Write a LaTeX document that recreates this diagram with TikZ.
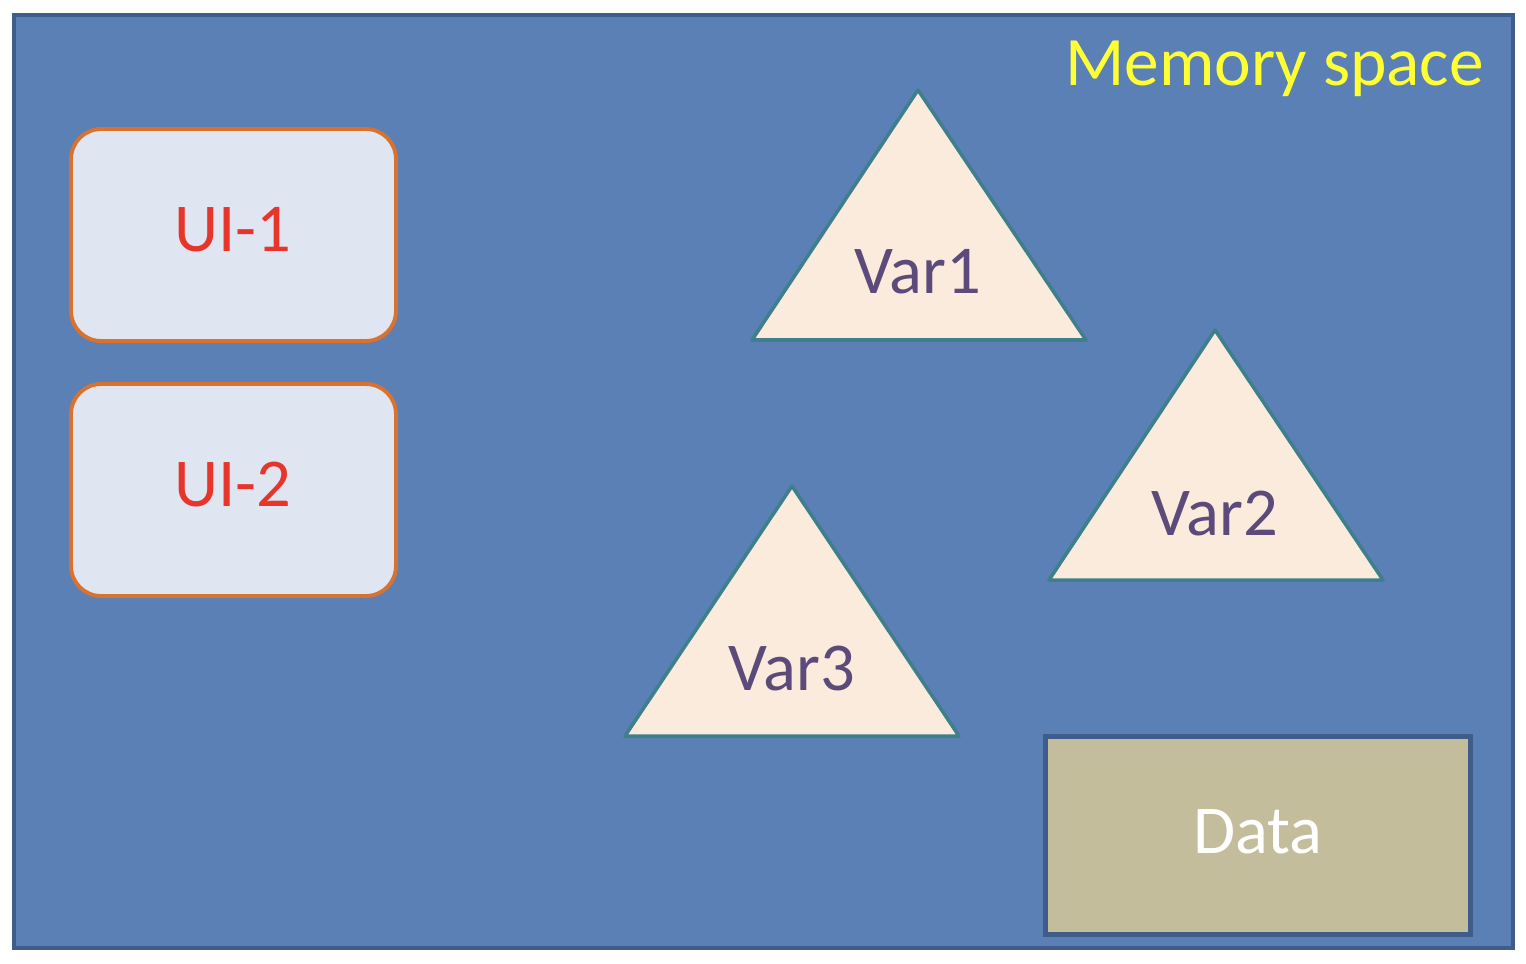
\documentclass[tikz,border=0pt]{standalone}
\usepackage{fontspec}
\setmainfont{Carlito}
\definecolor{memfill}{HTML}{5A80B6}
\definecolor{memline}{HTML}{3F5C8A}
\definecolor{uifill}{HTML}{DFE6F1}
\definecolor{uiline}{HTML}{D9722F}
\definecolor{uitext}{HTML}{E8352B}
\definecolor{varfill}{HTML}{FBEBDD}
\definecolor{varline}{HTML}{3F7F8B}
\definecolor{vartext}{HTML}{5C4A7A}
\definecolor{datafill}{HTML}{C4BD9C}
\definecolor{memtext}{HTML}{FFFF33}
\begin{document}
\begin{tikzpicture}[x=0.02cm,y=-0.02cm,
  uibox/.style={draw=uiline,fill=uifill,line width=2.2pt,rounded corners=0.6cm,minimum width=6.5cm,minimum height=4.24cm},
  vartri/.style={draw=varline,fill=varfill,line width=2pt,line join=round},
  varlabel/.style={anchor=base,text=vartext,font=\fontsize{39}{44}\selectfont},
  uilabel/.style={anchor=base,text=uitext,font=\fontsize{39}{44}\selectfont}]
\useasboundingbox (0,0) rectangle (1526,964);
\draw[draw=memline,fill=memfill,line width=2.2pt] (14,15) rectangle (1513,948);
\node[anchor=base east,text=memtext,font=\fontsize{39.5}{44}\selectfont] (MS) at (1490,85) {Memory space};
\node[uibox] (U1) at (233.5,235) {};
\node[uibox] (U2) at (233.5,490) {};
\node[uilabel] (U1t) at (233,251) {UI-1};
\node[uilabel] (U2t) at (233,506) {UI-2};
\draw[vartri] (918,90) -- (1086,340) -- (752,340) -- cycle;
\draw[vartri] (1215,330) -- (1383,580) -- (1049,580) -- cycle;
\draw[vartri] (792,486) -- (959,736) -- (625,736) -- cycle;
\node[varlabel] (V1) at (918,293) {Var1};
\node[varlabel] (V2) at (1215,535) {Var2};
\node[varlabel] (V3) at (792,690) {Var3};
\node[draw=memline,fill=datafill,line width=2.6pt,minimum width=8.5cm,minimum height=3.96cm] (D) at (1258,835.5) {};
\node[anchor=base,text=white,font=\fontsize{39}{44}\selectfont] (Dt) at (1258,853) {Data};
\end{tikzpicture}
\end{document}
